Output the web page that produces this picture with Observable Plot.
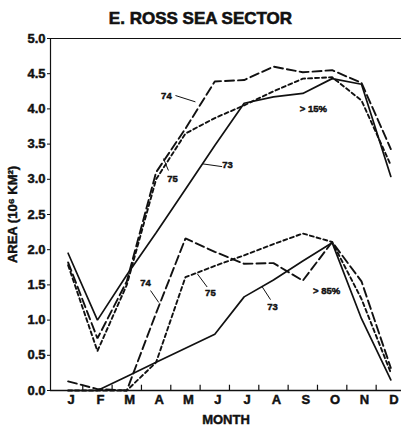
<!DOCTYPE html>
<html><head><meta charset="utf-8">
<script src="https://cdn.jsdelivr.net/npm/d3@7"></script>
<script src="https://cdn.jsdelivr.net/npm/@observablehq/plot@0.6"></script>
<style>
body{margin:0;background:#fff;font-family:"Liberation Sans",Arial,sans-serif;color:#111;}
#title{height:30px;text-align:center;font-weight:bold;font-size:17px;line-height:17px;padding-top:10px;box-sizing:border-box;-webkit-text-stroke:0.6px #111;}
#chart svg{display:block;}
#chart svg text{stroke:#111;stroke-width:0.45px;}
</style></head><body>
<div id="title">E. ROSS SEA SECTOR</div>
<div id="chart"></div>
<script>
// Month labels (x categories)
const months = ["J","F","M","A","M","J","J","A","S","O","N","D"];
// Y tick values
const yTicks = [0, 0.5, 1, 1.5, 2, 2.5, 3, 3.5, 4, 4.5, 5];

// > 15% concentration ice area (10^6 km^2)
const hi73 = [1.95, 1.00, 1.64, 2.24, 2.86, 3.48, 4.08, 4.17, 4.22, 4.43, 4.35, 3.04];
const hi74 = [1.82, 0.74, 1.55, 3.10, 3.72, 4.39, 4.41, 4.60, 4.52, 4.55, 4.37, 3.43];
const hi75 = [1.78, 0.56, 1.50, 3.00, 3.65, 3.87, 4.05, 4.25, 4.43, 4.45, 4.12, 3.20];
// > 85% concentration ice area (10^6 km^2)
const lo73 = [0.00, 0.00, 0.20, 0.40, 0.60, 0.80, 1.33, 1.57, 1.84, 2.10, 1.02, 0.15];
const lo74 = [0.13, 0.02, 0.00, 1.10, 2.16, 1.97, 1.80, 1.81, 1.56, 2.11, 1.55, 0.32];
const lo75 = [0.00, 0.00, 0.00, 0.40, 1.61, 1.77, 1.92, 2.08, 2.23, 2.11, 1.30, 0.25];

// Annotation texts and their anchor points (data units)
const labelText = ["74", "75", "73", "> 15%", "74", "75", "73", "> 85%"];
const labelX = [3.35, 3.56, 5.43, 8.36, 2.64, 4.85, 6.97, 8.81];
const labelY = [4.18, 3.00, 3.20, 4.00, 1.53, 1.39, 1.19, 1.41];
// Leader lines from labels to curves
const leadX1 = [3.66, 3.42, 5.25, 2.81, 4.74, 6.90];
const leadY1 = [4.19, 3.125, 3.18, 1.42, 1.47, 1.29];
const leadX2 = [4.34, 3.25, 4.57, 3.09, 4.40, 6.62];
const leadY2 = [4.10, 3.295, 3.22, 1.25, 1.66, 1.47];

const styleOf = {
  "73": {strokeDasharray: null, strokeWidth: 1.7},
  "74": {strokeDasharray: "9,4", strokeWidth: 1.9},
  "75": {strokeDasharray: "4,3", strokeWidth: 1.9}
};
const series = [["73", hi73], ["74", hi74], ["75", hi75], ["73", lo73], ["74", lo74], ["75", lo75]];
const lineMarks = series.map(([yr, vals]) =>
  Plot.line(vals.map((v, i) => ({i, v})), {
    x: "i", y: "v", stroke: "#111",
    strokeWidth: styleOf[yr].strokeWidth,
    strokeDasharray: styleOf[yr].strokeDasharray,
    strokeLinejoin: "miter"
  })
);
const labels = labelText.map((t, k) => ({t, x: labelX[k], y: labelY[k]}));
const leaders = leadX1.map((x1, k) => ({x1, y1: leadY1[k], x2: leadX2[k], y2: leadY2[k]}));
const bounds = d3.range(0.5, 11, 1);

const chart = Plot.plot({
  width: 401, height: 396,
  marginLeft: 50, marginRight: 0, marginTop: 8, marginBottom: 36,
  x: {domain: [-0.6, 11.5], range: [50, 405]},
  y: {domain: [0, 5]},
  style: {fontFamily: "Liberation Sans, Arial, sans-serif", fontWeight: "bold", fontSize: "13px", color: "#111", background: "#fff"},
  marks: [
    Plot.axisY({ticks: yTicks, tickFormat: d3.format(".1f"), tickSize: 3, tickPadding: 2,
      label: "AREA (10⁶ KM²)", labelAnchor: "center", labelArrow: "none", labelOffset: 43, fontSize: 13}),
    Plot.axisX({ticks: d3.range(12), tickFormat: i => months[i], tickSize: 0, tickPadding: 4, dx: 3,
      label: "MONTH", labelAnchor: "center", labelArrow: "none", fontSize: 13}),
    Plot.ruleY([0], {stroke: "#111", strokeWidth: 1.4}),
    Plot.ruleY([5], {stroke: "#111", strokeWidth: 1.2}),
    Plot.ruleX([-0.6], {y1: 0, y2: 5, stroke: "#111", strokeWidth: 1.2}),
    Plot.ruleX(bounds, {y1: 0, y2: 0.075, stroke: "#111", strokeWidth: 1.2}),
    ...lineMarks,
    Plot.link(leaders, {x1: "x1", y1: "y1", x2: "x2", y2: "y2", stroke: "#111", strokeWidth: 1}),
    Plot.text(labels, {x: "x", y: "y", text: "t", fontSize: 9.5, fontWeight: "bold", fill: "#111"})
  ]
});
document.getElementById("chart").appendChild(chart);
</script>
</body></html>
